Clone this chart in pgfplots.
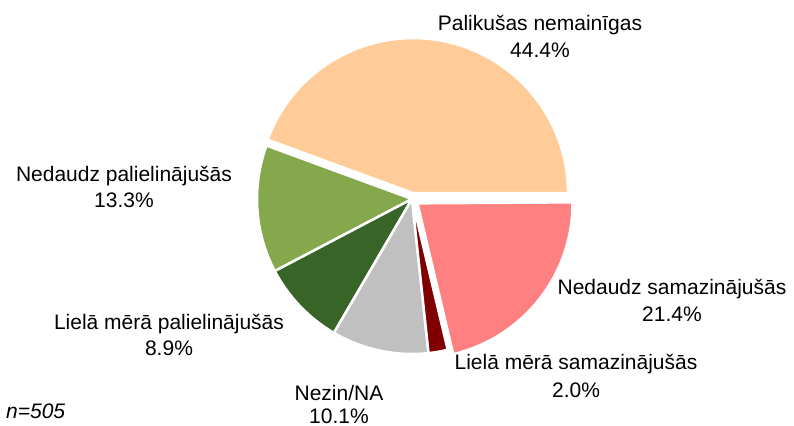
\documentclass[border=0pt]{standalone}
\usepackage{pgfplots}
\pgfplotsset{compat=1.18}
\usepackage{pgfplotstable}
\usepackage{fontspec}
\setmainfont{Liberation Sans}
\definecolor{peach}{HTML}{FFCC99}
\definecolor{lgreen}{HTML}{84A84B}
\definecolor{dgreen}{HTML}{386428}
\definecolor{lgray}{HTML}{C0C0C0}
\definecolor{dred}{HTML}{800000}
\definecolor{pink}{HTML}{FF8080}
\tikzset{lbl/.style={font=\fontsize{21bp}{26bp}\selectfont, inner sep=0pt, anchor=base}}

% value in percent, slice colour, explode offset (px)
\pgfplotstableread[col sep=comma]{
label,value,color,explode
Palikušas nemainīgas,44.4,peach,6
Nedaudz palielinājušās,13.3,lgreen,0
Lielā mērā palielinājušās,8.9,dgreen,0
Nezin/NA,10.1,lgray,0
Lielā mērā samazinājušās,2.0,dred,0
Nedaudz samazinājušās,21.4,pink,7
}\piedata

\begin{document}
\begin{tikzpicture}
\begin{axis}[hide axis, scale only axis, width=794bp, height=426bp,
  xmin=0, xmax=794, ymin=0, ymax=426, clip=false]
\addplot[draw=none] coordinates {(0,0) (794,426)};
\pgfplotsextra{
  \pgfplotstablegetrowsof{\piedata}
  \pgfmathtruncatemacro{\N}{\pgfplotsretval-1}
  \xdef\cum{0}
  \foreach \i in {0,...,\N} {
    \pgfplotstablegetelem{\i}{value}\of\piedata \let\v\pgfplotsretval
    \pgfplotstablegetelem{\i}{color}\of\piedata \let\c\pgfplotsretval
    \pgfplotstablegetelem{\i}{explode}\of\piedata \let\e\pgfplotsretval
    \pgfmathsetmacro\a{\cum}
    \pgfmathsetmacro\b{\cum+3.6*\v}
    \pgfmathsetmacro\m{(\a+\b)/2}
    \pgfmathsetmacro\cx{412+\e*cos(\m)}
    \pgfmathsetmacro\cy{227+\e*sin(\m)}
    \fill[fill=\c, draw=white, line width=2.5bp, line join=round]
      (axis cs:\cx,\cy) -- ++(\a:155bp) arc[start angle=\a, end angle=\b, radius=155bp] -- cycle;
    \xdef\cum{\b}
  }
}
\node[lbl] at (axis cs:540,395) {Palikušas nemainīgas};
\node[lbl] at (axis cs:540,368) {44.4\%};
\node[lbl] at (axis cs:124,244) {Nedaudz palielinājušās};
\node[lbl] at (axis cs:124,218) {13.3\%};
\node[lbl] at (axis cs:169,96) {Lielā mērā palielinājušās};
\node[lbl] at (axis cs:169,70) {8.9\%};
\node[lbl] at (axis cs:339,26) {Nezin/NA};
\node[lbl] at (axis cs:339,3) {10.1\%};
\node[lbl] at (axis cs:576,56) {Lielā mērā samazinājušās};
\node[lbl] at (axis cs:576,29) {2.0\%};
\node[lbl] at (axis cs:672,131) {Nedaudz samazinājušās};
\node[lbl] at (axis cs:672,104) {21.4\%};
\node[lbl, anchor=base west] at (axis cs:6,8) {\itshape n=505};
\end{axis}
\pgfresetboundingbox
\path[use as bounding box] (0,0) rectangle (794bp,426bp);
\end{tikzpicture}
\end{document}
